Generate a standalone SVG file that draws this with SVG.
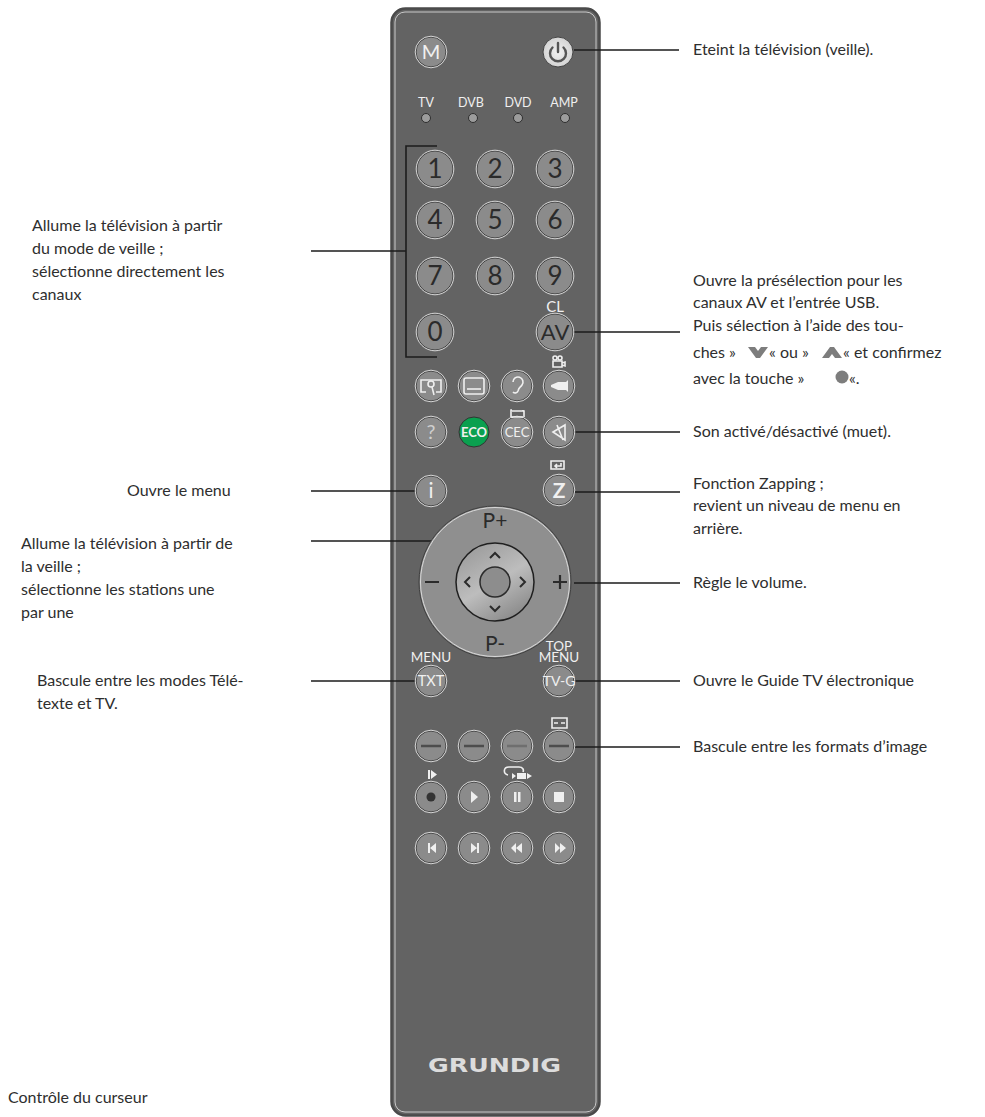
<svg xmlns="http://www.w3.org/2000/svg" xmlns:xlink="http://www.w3.org/1999/xlink" width="985" height="1117" viewBox="0 0 985 1117">
<style>
text{font-family:"Lato","Liberation Sans",sans-serif}
.d{font-size:16px;fill:#2e2e2e}
.m{text-anchor:middle}
.w{fill:#f0f0f0}
.k{fill:#2b2b2b}
.l{stroke:#1c1c1c;stroke-width:1.6;fill:none}
.ic{fill:none;stroke:#efefef;stroke-width:1.6}
.fw{fill:#efefef}
.b{fill:#8b8b8b;stroke:#3f3f3f;stroke-width:1}
.o{fill:none;stroke:#e4e4e4;stroke-width:.9}
</style>
<defs>
<radialGradient id="pw"><stop offset="0" stop-color="#f0f0f0"/><stop offset="1" stop-color="#d4d4d4"/></radialGradient>
<linearGradient id="nav" x1="0.2" y1="0" x2="0.8" y2="1"><stop offset="0" stop-color="#9a9a9a"/><stop offset="0.5" stop-color="#bdbdbd"/><stop offset="1" stop-color="#858585"/></linearGradient>
<g id="s"><circle r="15" class="b"/><circle r="15.8" class="o"/></g>
<g id="n"><circle r="18" class="b"/><circle r="18.8" class="o"/></g>
</defs>
<g id="body"><rect x="391.500" y="8.500" width="208" height="1107" rx="14" fill="#636363" stroke="#4a4a4a" stroke-width="2.500"/><rect x="395" y="12" width="201" height="1100" rx="10" fill="none" stroke="#c9c9c9" stroke-width="1"/></g>
<g id="connectors" class="l">
<path d="M574 50H679M574 332H680M575 432H680M575 492H680M574 583H680M574 681H680M574 747H680"/>
<path d="M311 251H406M437 146H406V357H437M311 491H415M311 541H460M311 681H415"/>
</g>
<g id="btn-m"><use href="#s" x="431" y="52"/><text x="431" y="59" font-size="20" class="m w">M</text></g>
<g id="btn-power"><circle cx="558" cy="52" r="15" fill="url(#pw)" stroke="#444"/><path d="M552.500 47.500a8 8 0 1 0 11 0M558 43v9" fill="none" stroke="#555" stroke-width="2.400" stroke-linecap="round"/></g>
<g id="leds" font-size="12.500" class="m">
<text x="426" y="107" class="w m" font-size="12.500">TV</text><text x="471" y="107" class="w m" font-size="12.500">DVB</text><text x="518" y="107" class="w m" font-size="12.500">DVD</text><text x="564" y="107" class="w m" font-size="12.500">AMP</text>
<g fill="#9c9c9c" stroke="#2e2e2e"><circle cx="426" cy="118" r="4.500"/><circle cx="473" cy="118" r="4.500"/><circle cx="518" cy="118" r="4.500"/><circle cx="565" cy="118" r="4.500"/></g>
</g>
<g id="digits" font-size="26" class="k">
<use href="#n" x="435" y="169"/><text x="435" y="178" class="m k" font-size="26">1</text>
<use href="#n" x="495" y="169"/><text x="495" y="178" class="m k" font-size="26">2</text>
<use href="#n" x="555" y="169"/><text x="555" y="178" class="m k" font-size="26">3</text>
<use href="#n" x="435" y="220"/><text x="435" y="229" class="m k" font-size="26">4</text>
<use href="#n" x="495" y="220"/><text x="495" y="229" class="m k" font-size="26">5</text>
<use href="#n" x="555" y="220"/><text x="555" y="229" class="m k" font-size="26">6</text>
<use href="#n" x="435" y="276"/><text x="435" y="285" class="m k" font-size="26">7</text>
<use href="#n" x="495" y="276"/><text x="495" y="285" class="m k" font-size="26">8</text>
<use href="#n" x="555" y="276"/><text x="555" y="285" class="m k" font-size="26">9</text>
<use href="#n" x="435" y="332"/><text x="435" y="341" class="m k" font-size="26">0</text>
</g>
<g id="btn-av"><text x="555" y="312" font-size="15" class="m w">CL</text><use href="#n" x="555" y="332"/><text x="555" y="340" font-size="22" class="m k">AV</text></g>
<g id="row-icons">
<use href="#s" x="431" y="386"/><path class="ic" d="M426 392h-5v-12h20v12h-5"/><circle class="ic" cx="431" cy="384" r="3"/><path class="ic" d="M432 387l2 8"/>
<use href="#s" x="474" y="386"/><rect class="ic" x="464" y="378" width="20" height="16" rx="2"/><path class="ic" d="M467 389h14"/>
<use href="#s" x="517" y="386"/><path class="ic" stroke-width="2" d="M513 382a5 5 0 1 1 9 3c-2 3-3 2-4 6a3 3 0 0 1-5 1"/>
<use href="#s" x="559" y="386"/><path class="fw" d="M551 385l7-3h8l2-2v12l-2-2h-8l-7-3z"/>
<path class="ic" stroke-width="1" d="M553 361h9v6h-9zM562 363l3-1v4l-3-1" /><circle class="ic" stroke-width="1" cx="555" cy="358" r="2"/><circle class="ic" stroke-width="1" cx="560" cy="358" r="2"/>
</g>
<g id="row-eco">
<use href="#s" x="431" y="432"/><text x="431" y="439" font-size="20" class="m" fill="#cfcfcf">?</text>
<g><circle cx="474" cy="432" r="15" fill="#0aa04f" stroke="#333"/><text x="474" y="437" font-size="13" font-weight="700" class="m w">ECO</text></g>
<use href="#s" x="517" y="432"/><text x="517" y="437" font-size="13" class="m w">CEC</text>
<path class="ic" stroke-width="1" d="M512 411h11v-1M523 417h-11v1"/><path class="ic" stroke-width="1" d="M512 410h-1v7M523 411h1v6"/>
<use href="#s" x="559" y="432"/><path class="ic" stroke-width="2" d="M553 432l12-7v15zM557 425l6 15"/>
</g>
<g id="btn-i"><use href="#s" x="431" y="491"/><text x="431" y="498" font-size="21" class="m w">i</text></g>
<g id="btn-z"><path class="ic" stroke-width="1" d="M551 461h13v8h-13z"/><path class="ic" stroke-width="1.200" d="M561 463v3h-6M557 464l-2 2 2 2"/><use href="#s" x="559" y="490"/><text x="559" y="498" font-size="21" font-weight="700" class="m w">Z</text></g>
<g id="nav-ring"><circle cx="495" cy="582" r="76" fill="#8f8f8f" stroke="#3f3f3f"/><circle cx="495" cy="582" r="74.500" fill="none" stroke="#e0e0e0" stroke-width=".9"/>
<text x="495" y="528" font-size="21" class="m k">P+</text><text x="495" y="651" font-size="21" class="m k">P-</text>
<path d="M425 582h14M553 582h14M560 575v14" stroke="#2b2b2b" stroke-width="2.200"/></g>
<g id="nav-pad"><circle cx="495" cy="582" r="39" fill="url(#nav)" stroke="#1f1f1f" stroke-width="1.500"/><circle cx="495" cy="582" r="15" fill="#8d8d8d" stroke="#2b2b2b" stroke-width="1.500"/>
<path d="M490 558l5-5 5 5M490 606l5 5 5-5M470 577l-5 5 5 5M520 577l5 5-5 5" fill="none" stroke="#2b2b2b" stroke-width="2"/></g>
<g id="btn-txt"><text x="431" y="662" font-size="13.500" class="m w">MENU</text><use href="#s" x="431" y="681"/><text x="431" y="686" font-size="14.500" class="m w">TXT</text></g>
<g id="btn-tvg"><text x="559" y="651" font-size="13.500" class="m w">TOP</text><text x="559" y="662" font-size="13.500" class="m w">MENU</text><use href="#s" x="559" y="681"/><text x="559" y="686" font-size="14" class="m w">TV-G</text></g>
<g id="row-color">
<use href="#s" x="431" y="746"/><path d="M421 746h20" stroke="#4d4d4d" stroke-width="2.500"/>
<use href="#s" x="474" y="746"/><path d="M464 746h20" stroke="#4d4d4d" stroke-width="2.500"/>
<use href="#s" x="517" y="746"/><path d="M507 746h20" stroke="#6f6f6f" stroke-width="2.500"/>
<use href="#s" x="559" y="746"/><path d="M549 746h20" stroke="#4d4d4d" stroke-width="2.500"/>
<path class="ic" stroke-width="1" d="M552 718h15v10h-15zM554 723h4M565 723h-4"/>
</g>
<g id="row-play">
<path class="fw" d="M428 770h2v9h-2zM431 770l6 4.500-6 4.500z"/><path class="ic" stroke-width="1.200" d="M508 775c-5-1-5-8 1-8h10c4 0 5 3 4 5"/><path class="fw" d="M512 773l4 3-4 3zM517 773h9v6h-9zM527 773l5 3-5 3z"/>
<use href="#s" x="431" y="797"/><circle cx="431" cy="797" r="4.500" fill="#333"/>
<use href="#s" x="474" y="797"/><path class="fw" d="M471 791l7 6-7 6z"/>
<use href="#s" x="517" y="797"/><path class="fw" d="M514 792h2.500v10H514zM518 792h2.500v10H518z"/>
<use href="#s" x="559" y="797"/><rect class="fw" x="554" y="792" width="10" height="10"/>
</g>
<g id="row-skip">
<use href="#s" x="431" y="848"/><path class="fw" d="M428 843h2v10h-2zM436 843v10l-6-5z"/>
<use href="#s" x="474" y="848"/><path class="fw" d="M477 843h2v10h-2zM471 843v10l6-5z"/>
<use href="#s" x="517" y="848"/><path class="fw" d="M516 843v10l-5-5zM522 843v10l-6-5z"/>
<use href="#s" x="559" y="848"/><path class="fw" d="M555 843v10l5-5zM560 843v10l6-5z"/>
</g>
<g id="logo"><text x="494.500" y="1072" font-family="DejaVu Sans" font-size="19" font-weight="700" class="m" fill="#dcdcdc" textLength="133" lengthAdjust="spacingAndGlyphs" style="font-family:'DejaVu Sans',sans-serif">GRUNDIG</text></g>
<g id="labels-right" class="d">
<text class="d" x="693" y="55">Eteint la télévision (veille).</text>
<text class="d" x="693" y="286">Ouvre la présélection pour les</text>
<text class="d" x="693" y="308">canaux AV et l’entrée USB.</text>
<text class="d" x="693" y="331">Puis sélection à l’aide des tou-</text>
<text class="d" x="693" y="358">ches »</text><path d="M748 347h7l3 4 3-4h7l-8 11h-4z" fill="#7d7d7d"/><text class="d" x="769" y="358">« ou »</text><path d="M822 358h7l3-4 3 4h7l-8-11h-4z" fill="#7d7d7d"/><text class="d" x="843" y="358">« et confirmez</text>
<text class="d" x="693" y="384">avec la touche »</text><circle cx="842" cy="377" r="6.500" fill="#7d7d7d"/><text class="d" x="849" y="384">«.</text>
<text class="d" x="693" y="437">Son activé/désactivé (muet).</text>
<text class="d" x="693" y="489">Fonction Zapping ;</text>
<text class="d" x="693" y="511">revient un niveau de menu en</text>
<text class="d" x="693" y="534">arrière.</text>
<text class="d" x="693" y="588">Règle le volume.</text>
<text class="d" x="693" y="686">Ouvre le Guide TV électronique</text>
<text class="d" x="693" y="752">Bascule entre les formats d’image</text>
</g>
<g id="labels-left" class="d">
<text class="d" x="32" y="231">Allume la télévision à partir</text>
<text class="d" x="32" y="254">du mode de veille ;</text>
<text class="d" x="32" y="277">sélectionne directement les</text>
<text class="d" x="32" y="300">canaux</text>
<text class="d" x="127" y="496">Ouvre le menu</text>
<text class="d" x="21" y="549">Allume la télévision à partir de</text>
<text class="d" x="21" y="572">la veille ;</text>
<text class="d" x="21" y="595">sélectionne les stations une</text>
<text class="d" x="21" y="618">par une</text>
<text class="d" x="37" y="686">Bascule entre les modes Télé-</text>
<text class="d" x="37" y="709">texte et TV.</text>
<text class="d" x="8" y="1103">Contrôle du curseur</text>
</g>
</svg>
